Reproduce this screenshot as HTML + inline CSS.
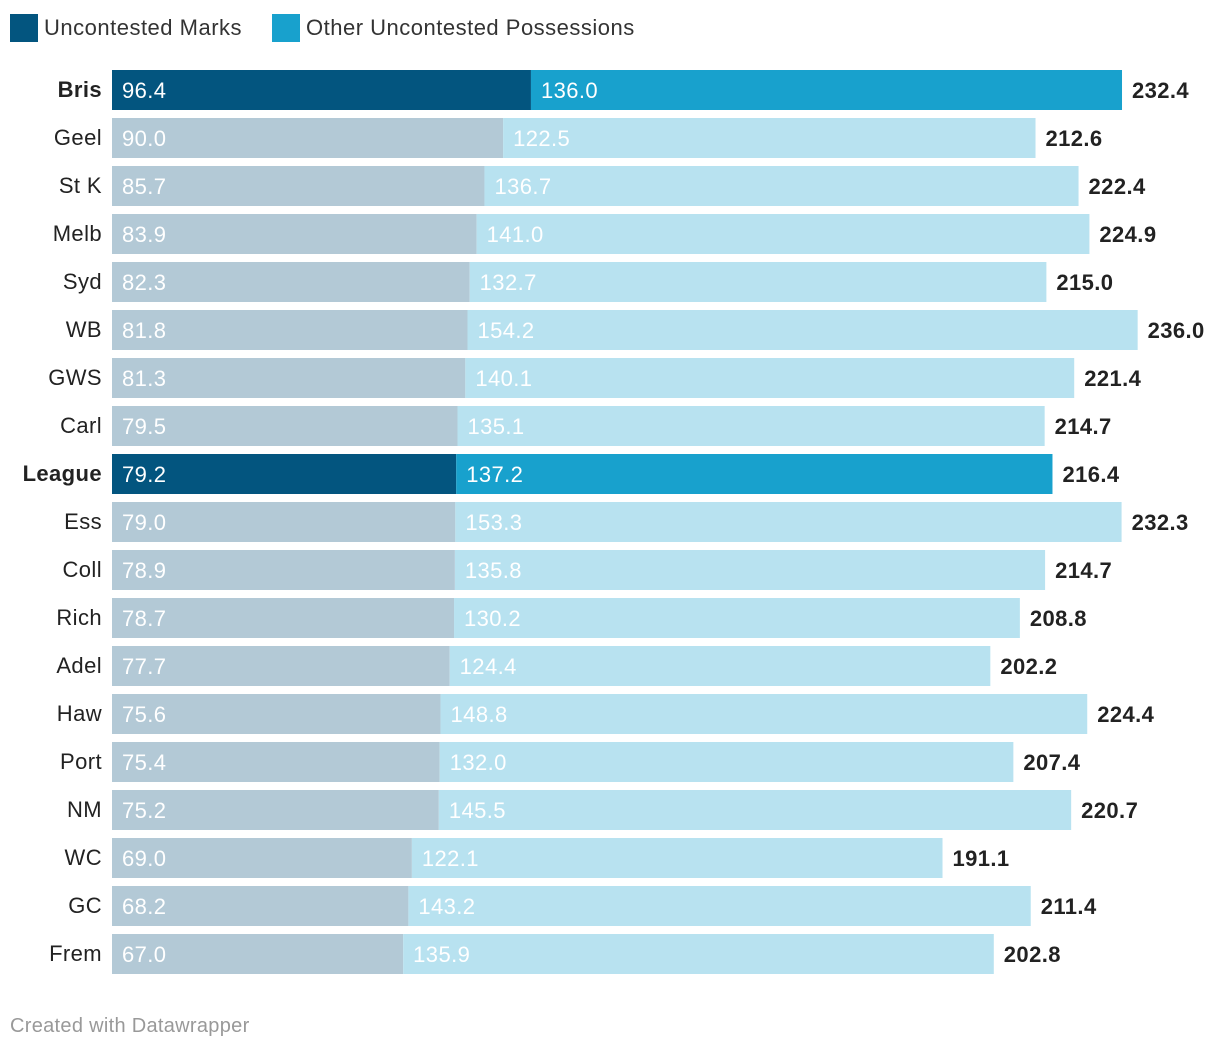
<!DOCTYPE html>
<html><head><meta charset="utf-8"><style>
body{margin:0;background:#fff;font-family:"Liberation Sans",Arial,sans-serif;}
#wrap{position:relative;width:1220px;height:1050px;overflow:hidden;}
.leg{position:absolute;top:14px;height:28px;display:flex;align-items:center;font-size:22px;color:#333;letter-spacing:0.5px;}
.sw{width:28px;height:28px;margin-right:6px;}
text{letter-spacing:0.4px;}
</style></head><body>
<div id="wrap">
<div class="leg" style="left:10px"><div class="sw" style="background:#03557f"></div>Uncontested Marks</div>
<div class="leg" style="left:272px"><div class="sw" style="background:#18a1cd"></div>Other Uncontested Possessions</div>
<svg id="plot" width="1220" height="1000" style="position:absolute;left:0;top:0"></svg>
<div style="position:absolute;left:10px;top:1015px;font-size:20px;color:#999;letter-spacing:0.3px">Created with Datawrapper</div>
</div>
<script>
const teams=["Bris","Geel","St K","Melb","Syd","WB","GWS","Carl","League","Ess","Coll","Rich","Adel","Haw","Port","NM","WC","GC","Frem"];
const marks=[96.4,90.0,85.7,83.9,82.3,81.8,81.3,79.5,79.2,79.0,78.9,78.7,77.7,75.6,75.4,75.2,69.0,68.2,67.0];
const other=[136.0,122.5,136.7,141.0,132.7,154.2,140.1,135.1,137.2,153.3,135.8,130.2,124.4,148.8,132.0,145.5,122.1,143.2,135.9];
const totals=[232.4,212.6,222.4,224.9,215.0,236.0,221.4,214.7,216.4,232.3,214.7,208.8,202.2,224.4,207.4,220.7,191.1,211.4,202.8];
const highlight=["Bris","League"];
const x0=112,k=4.346,y0=70,pitch=48,bh=40;
const xs=v=>x0+v*k;
const svg=document.getElementById('plot');
const NS='http://www.w3.org/2000/svg';
function mk(t,a){const e=document.createElementNS(NS,t);for(const n in a)e.setAttribute(n,a[n]);svg.appendChild(e);return e;}
teams.forEach((t,i)=>{
 const y=y0+i*pitch,h=highlight.includes(t);
 const tot=marks[i]+other[i];
 let r=mk('rect',{x:x0,y:y,width:xs(marks[i])-x0,height:bh,fill:h?'#03557f':'#b3c9d6'});
 
 
 r=mk('rect',{x:xs(marks[i]),y:y,width:xs(tot)-xs(marks[i]),height:bh,fill:h?'#18a1cd':'#b8e2f0'});
 
 
 let tx=mk('text',{x:102,y:y+27,'text-anchor':'end','font-size':22,fill:'#222','font-weight':h?'bold':'normal'});
 tx.textContent=t;
 
 
 tx=mk('text',{x:x0+10,y:y+28,'font-size':22,fill:'#fff'});tx.textContent=marks[i].toFixed(1);
 
 
 tx=mk('text',{x:xs(marks[i])+10,y:y+28,'font-size':22,fill:'#fff'});tx.textContent=other[i].toFixed(1);
 
 
 tx=mk('text',{x:xs(tot)+10,y:y+28,'font-size':22,fill:'#222','font-weight':'bold'});tx.textContent=totals[i].toFixed(1);
 
 
});
</script>
</body></html>
